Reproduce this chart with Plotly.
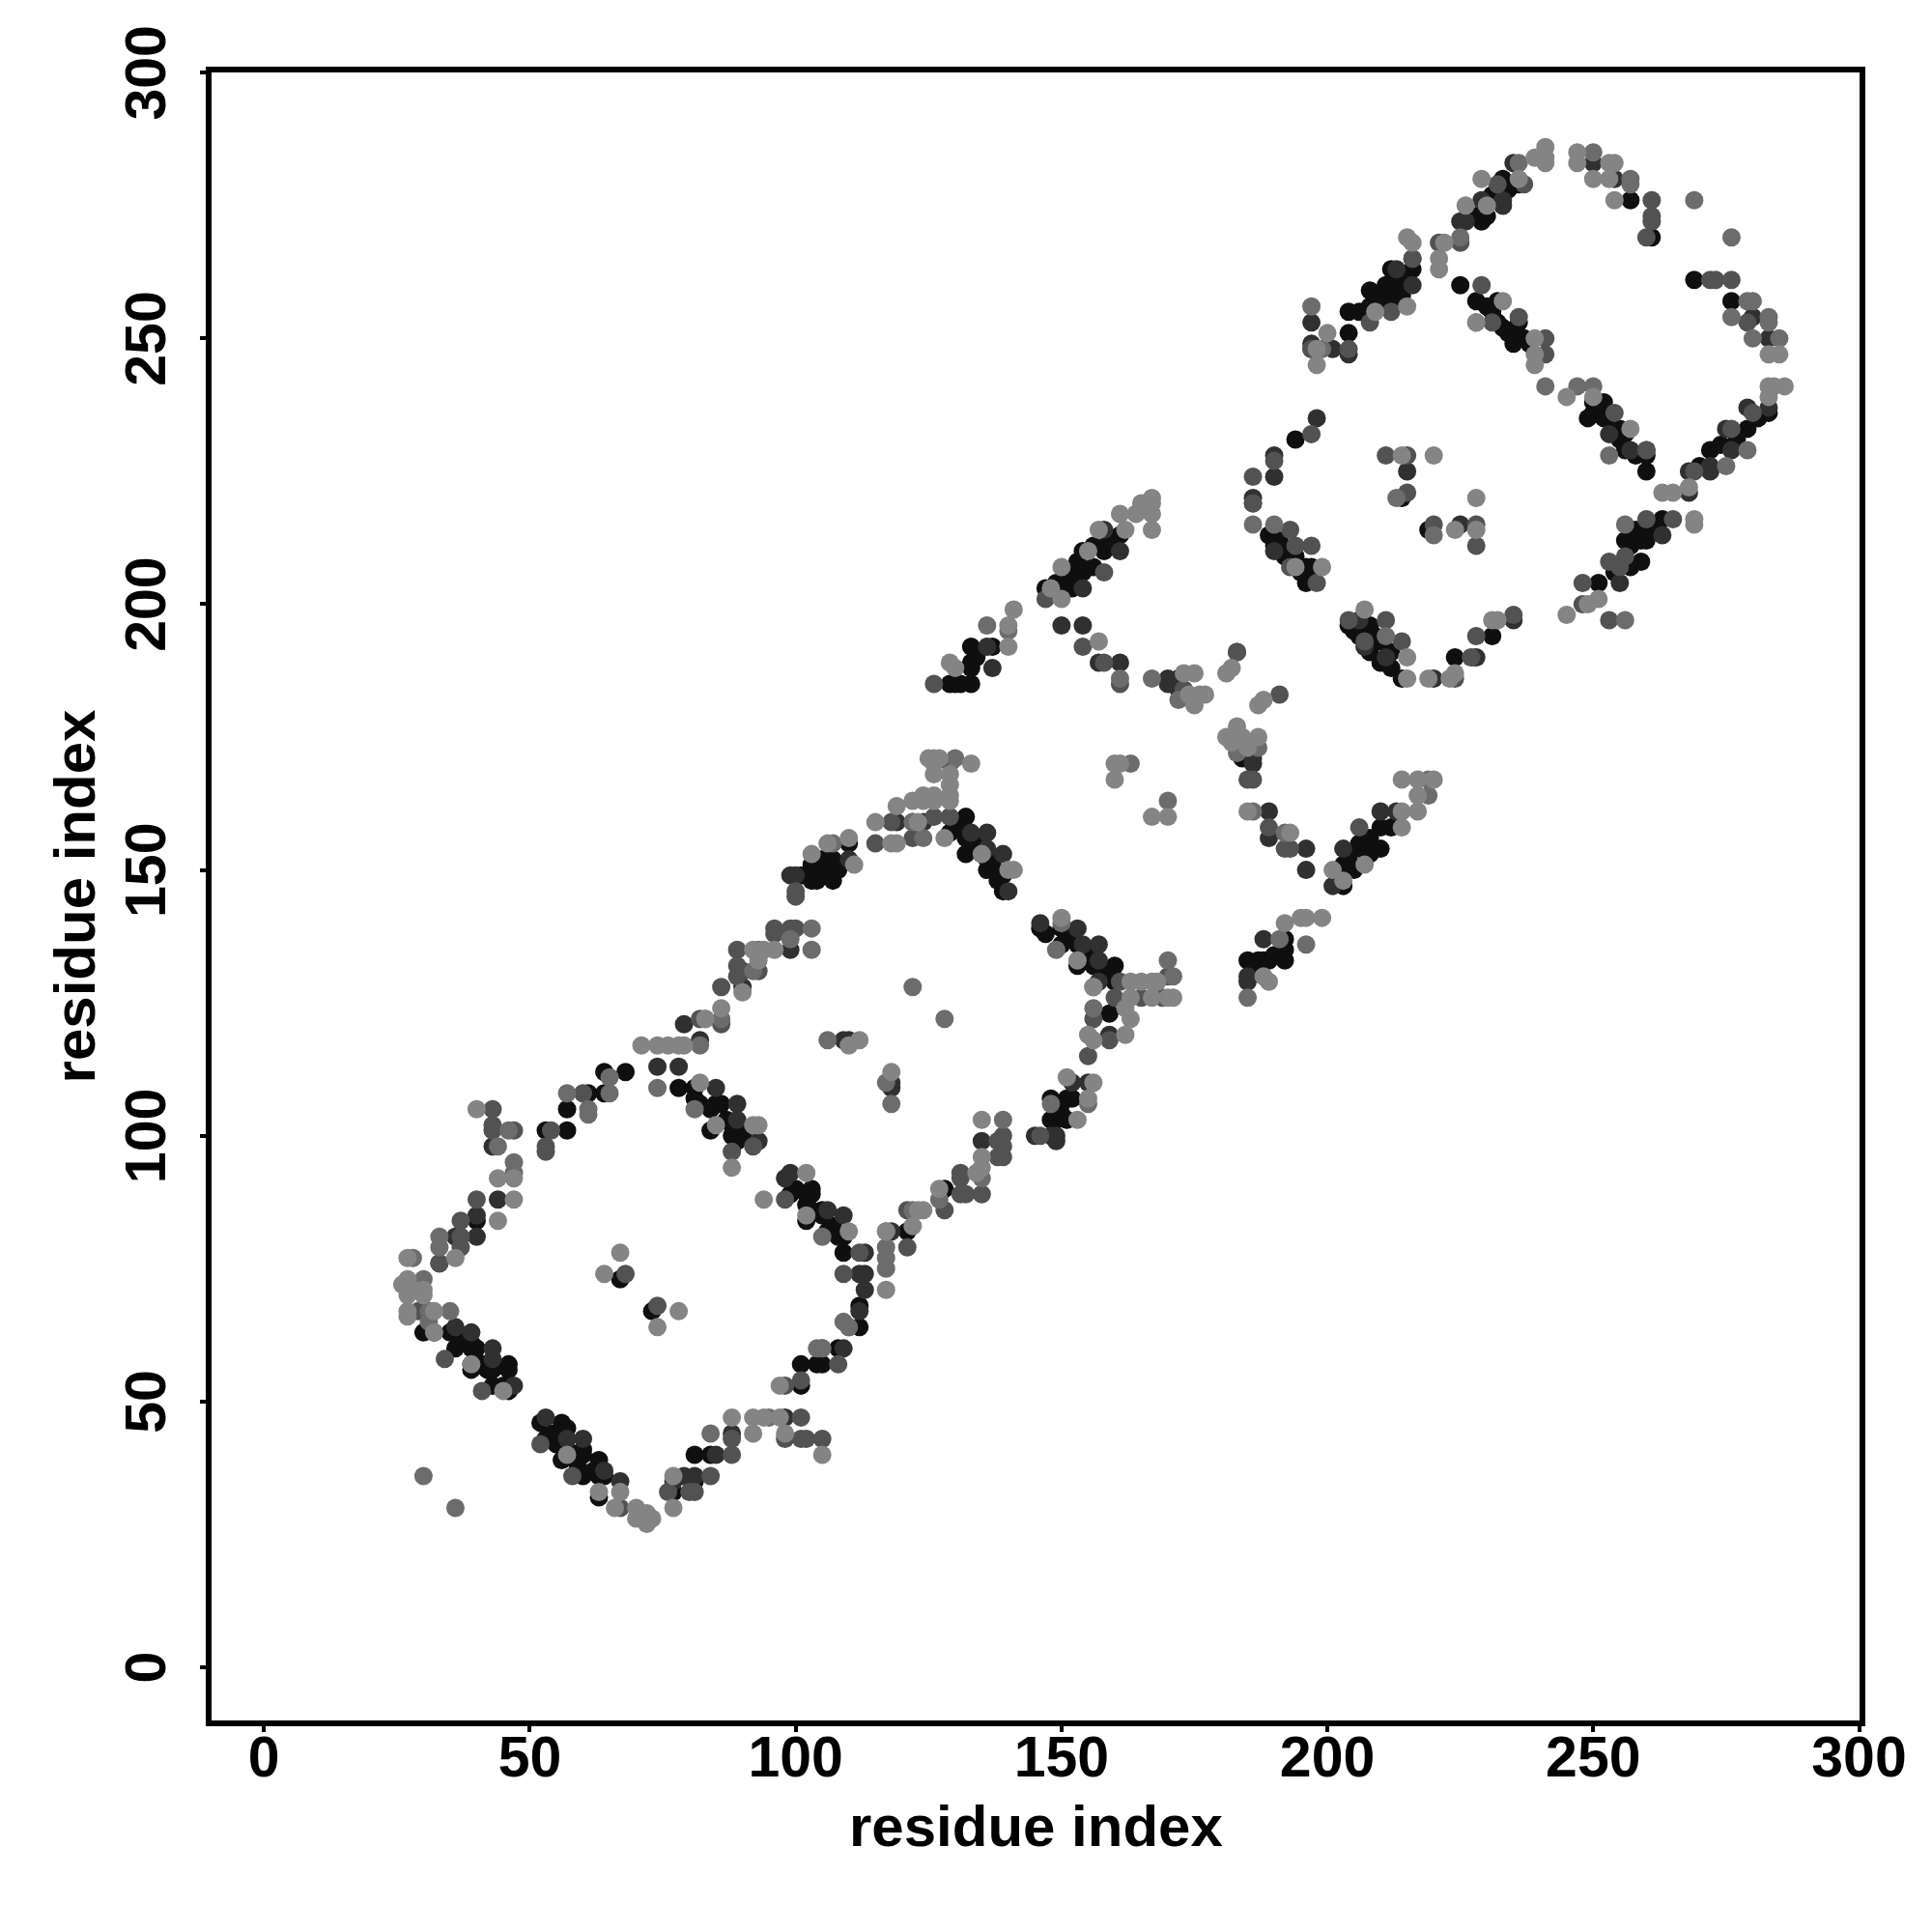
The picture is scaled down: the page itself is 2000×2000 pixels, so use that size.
import plotly.graph_objects as go

black_points = [(40,84),(33,76),(30,63),(35,63),(36,60),(39,60),(40,60),(39,57),(41,57),(46,57),(43,53),(46,53),(52,46),(53,43),(56,46),(56,43),(56,39),(59,40),(60,40),(63,39),(60,36),(63,36),(63,32),(77,33),(81,35),(81,40),(84,40),(101,53),(101,57),(104,57),(105,57),(108,60),(112,64),(112,68),(99,89),(102,89),(103,89),(105,85),(102,84),(106,82),(109,81),(109,78),(78,109),(81,109),(82,106),(86,106),(89,102),(88,102),(84,101),(89,99),(68,112),(64,112),(64,108),(61,108),(57,105),(57,101),(53,101),(67,73),(73,67),(121,82),
(129,160),(129,157),(132,160),(132,156),(132,153),(135,153),(136,150),(139,149),(139,146),(103,148),(104,148),(107,148),(103,151),(106,152),(107,152),(107,150),(110,155),(146,139),(150,139),(150,136),(153,136),(153,132),(156,132),(160,132),(160,129),(159,123),(148,107),(151,107),(152,107),(148,103),(151,103),(149,103),(128,90),
(129,185),(130,185),(133,185),(133,189),(133,188),(133,192),(137,192),(147,203),(150,203),(151,206),(154,206),(154,210),(158,210),(161,213),(184,171),(203,147),(203,151),(206,154),(210,154),(210,158),(185,133),(188,133),(189,133),(192,133),(192,137),(192,135),
(233,280),(236,279),(233,275),(229,272),(216,263),(212,263),(212,259),(208,259),(212,256),(211,256),(208,256),(204,255),(204,251),(225,260),(228,257),(232,257),(232,253),(236,253),(236,250),(235,249),(257,276),(261,269),(269,261),(276,257),(283,236),(279,233),(272,229),(250,238),(249,235),(250,236),(253,235),(256,232),(256,229),(260,228),(260,225),(263,216),(259,212),(256,212),(259,208),(256,208),(251,204),(194,231),(190,211),(193,210),(196,207),(196,204),(214,220),(219,214),(204,196),(208,196),(210,193),(210,189),(214,186),(224,190),(231,194),
(39,56),(42,56),(46,56),(46,52),(32,63),(36,63),(39,61),(42,57),(43,56),(45,53),(37,61),
(54,44),(57,45),(57,41),(60,41),(62,37),(64,36),(55,42),(59,38),
(100,90),(103,90),(103,86),(105,86),(107,83),(108,81),(102,87),
(81,107),(84,105),(85,106),(87,103),(88,100),(90,100),
(131,158),(133,155),(134,155),(137,151),(138,148),(136,152),(130,158),
(147,138),(151,137),(152,137),(155,133),(158,131),(156,134),(154,134),
(149,204),(152,205),(153,208),(156,207),(156,211),(159,212),(152,203),
(206,155),(204,152),(208,156),(212,158),(205,150),(208,153),
(209,257),(210,258),(213,260),(214,261),(206,255),(214,258),(211,260),
(230,256),(231,255),(233,252),(234,251),(237,250),(238,249),
(251,237),(252,235),(255,233),(255,231),(258,228),(252,238),
(274,230),(277,231),(281,235),(270,226),
(257,211),(258,214),(260,212),(261,214),(254,206),(257,207),(262,214),
(191,212),(192,209),(194,209),(195,206),(197,205),(189,213),(197,207),
(206,194),(208,191),(209,194),(212,191),(212,188),(205,195),
(101,149),(105,150),(105,152),(108,150),(149,105),(150,106),(150,104),(131,185),(134,190),
(231,277),(234,278),(228,273),(230,273),(187,133),(190,134),(186,132),(172,186),(172,184)]

dark_points = [(43,98),(40,85),(40,81),(36,81),(44,88),(36,64),(39,63),(43,58),(43,60),(47,53),(53,47),(60,43),(57,43),(64,37),(67,35),(77,35),(79,36),(81,36),(85,40),(88,44),(98,47),(112,67),(106,86),(109,85),(85,109),(89,106),(78,113),(74,113),(112,74),(89,103),(93,99),(99,93),(98,92),(109,60),
(113,78),(113,74),(113,71),(119,159),(122,159),(124,159),(133,157),(136,157),(136,154),(139,153),(140,146),(99,149),(100,149),(110,152),(99,135),(90,131),(90,128),(79,121),(82,118),(109,118),(110,118),(118,110),(118,109),(146,140),(153,139),(154,136),(157,136),(157,133),(157,129),(159,119),(152,110),(155,110),(145,100),(148,100),(149,100),(149,99),(135,99),(118,82),
(136,192),(137,188),(154,203),(161,210),(158,214),(150,196),(154,196),(157,189),(161,189),(170,186),(170,185),(171,185),(186,171),(186,170),(189,161),(189,156),(196,154),(196,150),(201,147),(203,154),(210,161),(213,161),(185,130),(185,129),(188,137),(183,191),
(235,283),(233,276),(229,276),(225,272),(226,272),(213,263),(216,260),(197,253),(204,247),(201,248),(197,249),(260,229),(254,280),(250,283),(233,275),(283,237),(279,237),(275,233),(276,229),(272,226),(272,225),(268,225),(268,221),(280,254),(283,250),(263,213),(255,204),(198,235),(190,228),(190,224),(186,220),(215,225),(225,215),(206,197),(207,192),(211,190),(220,186),(228,190),(235,197),(253,232),(257,229),(216,265),(186,219),(190,210)]

mid_points = [(43,105),(43,102),(43,101),(47,101),(40,88),(37,84),(37,81),(37,79),(33,76),(29,67),(34,58),(41,52),(52,42),(58,36),(67,30),(76,33),(80,33),(81,33),(84,36),(88,40),(88,43),(101,47),(98,43),(101,43),(102,43),(105,43),(98,53),(101,54),(108,57),(105,60),(110,64),(109,74),(112,78),(60,108),(54,101),(53,98),(53,97),(92,98),(68,74),(74,68),(88,97),(98,88),
(121,79),(129,170),(118,159),(126,160),(129,160),(115,155),(122,156),(100,145),(100,146),(96,139),(96,138),(99,139),(100,139),(89,135),(89,132),(93,131),(89,130),(86,128),(86,121),(82,122),(146,100),(139,100),(139,98),(138,99),(138,96),(139,96),(131,93),(131,92),(131,89),(132,89),(135,89),(128,86),(121,86),(161,129),(160,126),(159,118),(165,126),(169,126),(170,130),(155,115),(156,122),
(126,185),(147,201),(158,206),(154,192),(161,185),(173,184),(183,191),(191,183),(186,167),(185,167),(189,158),(192,154),(193,154),(206,158),(158,189),
(232,279),(237,279),(225,268),(221,268),(216,265),(197,248),(208,253),(212,255),(204,248),(229,260),(231,253),(236,254),(241,250),(241,247),(261,276),(261,273),(261,272),(260,269),(272,261),(273,261),(276,261),(279,253),(269,225),(280,236),(276,233),(254,236),(260,229),(253,208),(256,209),(255,207),(248,204),(248,200),(253,197),(265,216),(260,216),(197,232),(190,227),(186,224),(186,219),(193,214),(194,211),(197,211),(193,207),(198,204),(211,228),(215,228),(215,221),(220,215),(228,215),(228,211),(204,197),(211,197),(207,193),(214,193),(224,186),(227,190),(228,194),(235,198),(197,248)]

light_points = [(46,101),(44,98),(47,95),(47,93),(33,81),(33,79),(28,77),(30,73),(31,67),(35,67),(31,65),(84,44),(95,47),(104,60),(105,60),(109,65),(105,81),(81,105),(57,108),(61,105),(61,104),(74,109),(65,108),(65,111),(30,36),(36,30),(110,64),(117,79),(117,77),(117,75),
(130,171),(122,159),(124,156),(107,155),(103,139),(103,135),(99,137),(93,135),(92,131),(83,122),(86,122),(82,117),(122,128),(128,122),(106,118),(117,110),(118,106),(150,140),(149,135),(156,128),(139,103),(148,106),(155,106),(122,86),(135,92),(127,88),(170,133),(171,130),(156,124),
(136,196),(140,195),(161,186),(167,186),(172,182),(163,170),(170,163),(186,161),(192,157),(183,172),(187,173),(219,164),(219,167),(196,136),(191,137),(185,126),
(236,283),(225,269),(197,256),(199,248),(228,253),(241,241),(247,241),(250,241),(250,285),(257,280),(257,279),(269,276),(276,269),(279,257),(280,257),(276,254),(283,254),(283,253),(280,250),(285,250),(279,229),(275,226),(253,228),(256,215),(256,197),(186,215),(190,215),(213,220),(220,213),(211,194)]

pale_points = [(40,105),(47,92),(44,92),(47,88),(44,84),(27,77),(26,72),(27,73),(27,70),(30,71),(30,70),(28,71),(27,67),(27,66),(32,67),(36,77),(32,63),(39,57),(45,52),(57,40),(63,33),(66,30),(67,33),(70,30),(70,28),(72,27),(73,28),(72,29),(77,30),(77,36),(88,47),(92,44),(92,47),(94,47),(97,47),(98,44),(105,40),(97,53),(88,94),(94,88),(102,93),(102,85),(110,82),(82,110),(85,102),(92,102),(93,102),(67,78),(64,74),(78,67),(74,64),(117,71),(117,82),(71,117),(74,117),(76,117),
(126,171),(125,171),(127,171),(133,170),(126,170),(126,168),(126,164),(126,163),(129,168),(129,166),(129,164),(129,163),(122,163),(124,164),(124,163),(119,162),(123,159),(118,155),(119,155),(128,156),(115,159),(103,153),(106,155),(110,156),(111,151),(92,135),(94,135),(96,135),(93,133),(90,127),(86,124),(83,122),(79,117),(78,117),(112,118),(110,117),(118,112),(150,141),(153,133),(156,128),(141,150),(140,150),(135,153),(163,129),(165,129),(167,129),(168,129),(170,126),(171,126),(167,126),(163,126),(162,124),(163,122),(162,119),(155,119),(156,118),(151,111),(156,110),(155,107),(153,103),(135,103),(135,96),(135,94),(134,93),(127,90),(124,86),(123,86),(117,82),(122,83),
(129,189),(130,188),(140,192),(140,196),(141,199),(150,201),(148,203),(150,207),(155,210),(157,214),(162,214),(161,217),(164,217),(165,219),(167,217),(167,219),(167,220),(167,214),(157,193),(173,187),(175,187),(174,183),(176,183),(177,183),(175,181),(181,187),(182,188),(187,181),(188,182),(181,175),(183,177),(182,174),(184,175),(185,173),(187,175),(185,161),(193,157),(201,150),(203,148),(207,151),(214,158),(214,161),(217,161),(214,167),(217,167),(217,164),(220,167),(160,170),(161,170),(160,167),(167,160),(170,160),(188,130),(189,129),(192,140),(195,141),(196,141),(199,141),
(241,286),(241,284),(241,283),(239,284),(229,280),(236,280),(230,275),(226,275),(222,268),(221,265),(221,263),(215,269),(216,268),(215,256),(209,255),(200,251),(198,248),(198,245),(233,257),(228,253),(239,250),(239,247),(239,245),(247,285),(247,283),(253,283),(254,283),(250,280),(253,280),(254,276),(283,247),(285,247),(283,241),(286,241),(284,241),(283,239),(268,222),(265,221),(263,221),(245,239),(250,239),(257,233),(269,216),(269,215),(251,201),(249,200),(245,198),(199,207),(194,207),(214,228),(220,228),(228,220),(224,214),(228,214),(207,199),(215,190),(215,186),(219,186),(223,186),(224,187),(231,197),(232,197)]

shades = {"black": "#0f0f0f", "dark": "#303030", "mid": "#525252", "light": "#6c6c6c", "pale": "#848484"}
series = [("black", black_points), ("dark", dark_points), ("mid", mid_points), ("light", light_points), ("pale", pale_points)]

x_ticks = [0, 50, 100, 150, 200, 250, 300]
y_ticks = [0, 50, 100, 150, 200, 250, 300]
axis_title = "residue index"

fig = go.Figure()
for name, pts in series:
    fig.add_trace(go.Scatter(
        x=[p[0] for p in pts], y=[p[1] for p in pts], mode="markers", name=name,
        marker=dict(size=19, color=shades[name], line=dict(width=0)),
        showlegend=False))

title_font = dict(family="Liberation Sans", size=60, color="black", weight="bold")
axis = dict(showgrid=False, zeroline=False, showline=True, linecolor="black", linewidth=6,
            mirror=True, ticks="outside", ticklen=6, tickwidth=4, tickcolor="black", automargin=False,
            tickfont=dict(family="Liberation Sans", size=59, color="black", weight="bold"))
fig.update_layout(
    width=2000, height=2000, autosize=False,
    margin=dict(l=211, r=82.5, t=66.5, b=227),
    plot_bgcolor="white", paper_bgcolor="white",
    xaxis=dict(axis, range=[-9.86, 300.09], tickvals=x_ticks, ticktext=[str(v) for v in x_ticks],
               tickangle=0, ticklabelstandoff=-25),
    yaxis=dict(axis, range=[-9.99, 300.04], tickvals=y_ticks, ticktext=[str(v) for v in y_ticks],
               tickangle=-90, ticklabelstandoff=12, ticklabelshift=9,
               title=dict(text=axis_title, standoff=2, font=title_font)),
    annotations=[dict(text=axis_title, xref="paper", yref="paper", x=0.5, y=-0.0639,
                      xanchor="center", yanchor="middle", showarrow=False, font=title_font)],
)
fig.write_html("out.html")
